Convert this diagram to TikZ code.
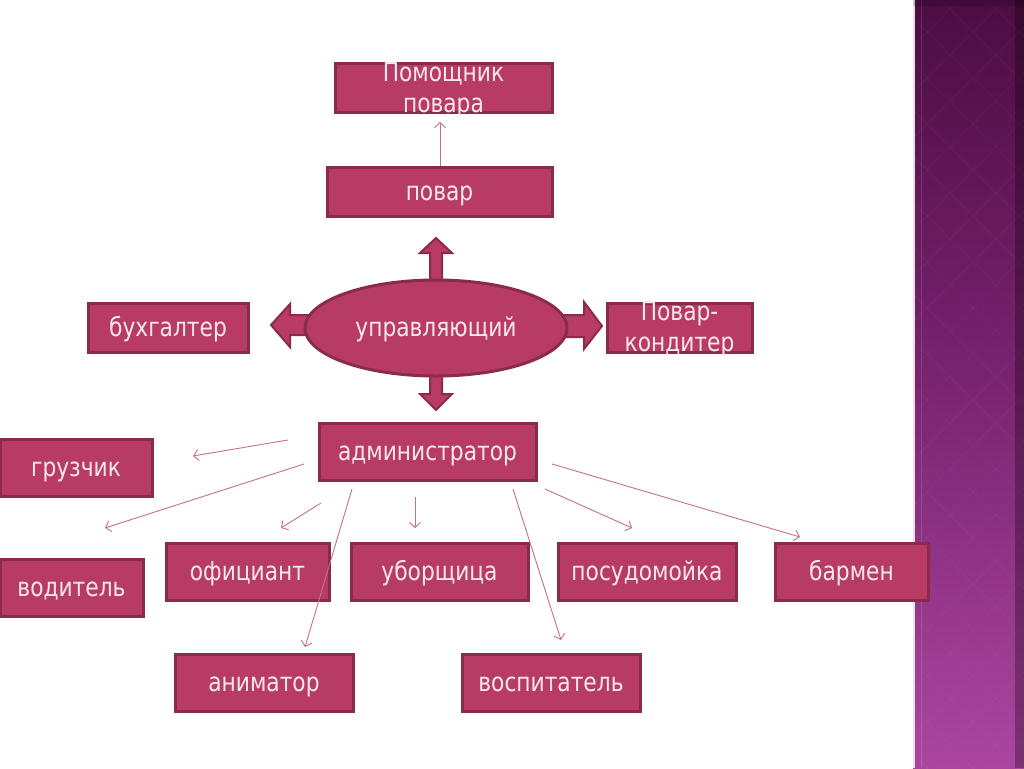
\documentclass[tikz,border=0pt]{standalone}
\usepackage{fontspec}
\setmainfont[FakeStretch=0.93]{DejaVu Sans Condensed}
\usetikzlibrary{shapes.geometric,arrows.meta}
\definecolor{boxfill}{HTML}{B83B66}
\definecolor{boxdraw}{HTML}{8A2A4C}
\definecolor{txt}{HTML}{F7E8EE}
\definecolor{thin}{HTML}{C2708F}
\definecolor{stripetop}{HTML}{4C0D42}
\definecolor{stripemid}{HTML}{7A2470}
\definecolor{stripebot}{HTML}{AA46A0}
\tikzset{
  box/.style={rectangle, fill=boxfill, draw=boxdraw, line width=3pt, text=txt,
    font=\fontsize{26}{31}\selectfont, inner sep=0pt, text height=18pt, text depth=0pt},
  boxtext/.style={text=txt, font=\fontsize{26}{31}\selectfont, align=center, inner sep=0pt},
  blockarrow/.style={fill=boxfill, draw=boxdraw, line width=2pt, line join=miter},
  link/.style={draw=thin, line width=0.9pt, -{Straight Barb[length=5pt,width=11pt]}}
}
\begin{document}
\begin{tikzpicture}[x=1pt,y=-1pt]
\useasboundingbox (0,0) rectangle (1024,768);
\fill[white] (0,0) rectangle (1024,768);
% right decorative stripe
\shade[top color=stripetop, bottom color=stripebot, middle color=stripemid] (913,0) rectangle (1024,768);
\begin{scope}
\clip (913,0) rectangle (1024,768);
\foreach \k in {-20,...,40}{
  \draw[white, opacity=0.035, line width=1pt] (913+\k*46-800,0) -- ++(800,800);
  \draw[white, opacity=0.035, line width=1pt] (913+\k*46,0) -- ++(-800,800);
}
\end{scope}
\draw[white!85!stripemid, line width=1.2pt] (914,0) -- (914,768);
\draw[white, opacity=0.12, line width=1pt] (921,0) -- (921,768);
\fill[black, opacity=0.28] (1015,0) rectangle (1024,768);
\fill[black, opacity=0.15] (913,0) rectangle (1024,6);

% block arrows around the ellipse
\draw[blockarrow] (430,284) -- (430,253) -- (420,253) -- (436,238) -- (452,253) -- (442,253) -- (442,284);
\draw[blockarrow] (430,372) -- (430,394) -- (420,394) -- (436,410) -- (452,394) -- (442,394) -- (442,372);
\draw[blockarrow] (310,315) -- (290,315) -- (290,304) -- (271,325) -- (290,347) -- (290,335) -- (310,335);
\draw[blockarrow] (562,315) -- (584,315) -- (584,302) -- (602,326) -- (584,349) -- (584,337) -- (562,337);

\node[ellipse, fill=boxfill, draw=boxdraw, line width=3pt, minimum width=262pt, minimum height=96pt,
  text=txt, font=\fontsize{26}{31}\selectfont, inner sep=0pt, text height=16pt, text depth=0pt] (upr) at (436,328) {управляющий};

% boxes
\node[box, minimum width=217pt, minimum height=49pt] (pom) at (443.5,87.5) {};
\node[boxtext, anchor=base] (pomt) at (443.5,112.5) {Помощник\\повара};
\node[box, minimum width=225pt, minimum height=49pt] (povar) at (439.5,191.5) {повар};
\node[box, minimum width=160pt, minimum height=49pt] (buh) at (168,327.5) {бухгалтер};
\node[box, minimum width=145pt, minimum height=49pt] (kond) at (679.5,327.5) {};
\node[boxtext, anchor=base] (kondt) at (679.5,351.5) {Повар-\\кондитер};
\node[box, minimum width=217pt, minimum height=57pt] (adm) at (427.5,451.5) {администратор};
\node[box, minimum width=152pt, minimum height=57pt] (gruz) at (76,467.5) {грузчик};
\node[box, minimum width=143pt, minimum height=57pt] (vod) at (71.5,587.5) {водитель};
\node[box, minimum width=163pt, minimum height=57pt] (ofic) at (247.5,571.5) {официант};
\node[box, minimum width=177pt, minimum height=57pt] (ubor) at (439.5,571.5) {уборщица};
\node[box, minimum width=178pt, minimum height=57pt] (posud) at (647,571.5) {посудомойка};
\node[box, minimum width=153pt, minimum height=57pt] (barm) at (851.5,571.5) {бармен};
\node[box, minimum width=178pt, minimum height=57pt] (anim) at (264,682.5) {аниматор};
\node[box, minimum width=178pt, minimum height=57pt] (vosp) at (551,682.5) {воспитатель};

% free-floating thin connectors
\coordinate (p0) at (440,166);  \coordinate (q0) at (440,122);
\coordinate (p1) at (288,440);  \coordinate (q1) at (193,456);
\coordinate (p2) at (304,464);  \coordinate (q2) at (105,528);
\coordinate (p3) at (321,503);  \coordinate (q3) at (281,528);
\coordinate (p4) at (415,497);  \coordinate (q4) at (415,528);
\coordinate (p5) at (352,489);  \coordinate (q5) at (305,647);
\coordinate (p6) at (513,489);  \coordinate (q6) at (561,640);
\coordinate (p7) at (545,489);  \coordinate (q7) at (632,528);
\coordinate (p8) at (552,464);  \coordinate (q8) at (800,537);
\foreach \i in {0,...,8}{ \draw[link] (p\i) -- (q\i); }
\end{tikzpicture}
\end{document}
